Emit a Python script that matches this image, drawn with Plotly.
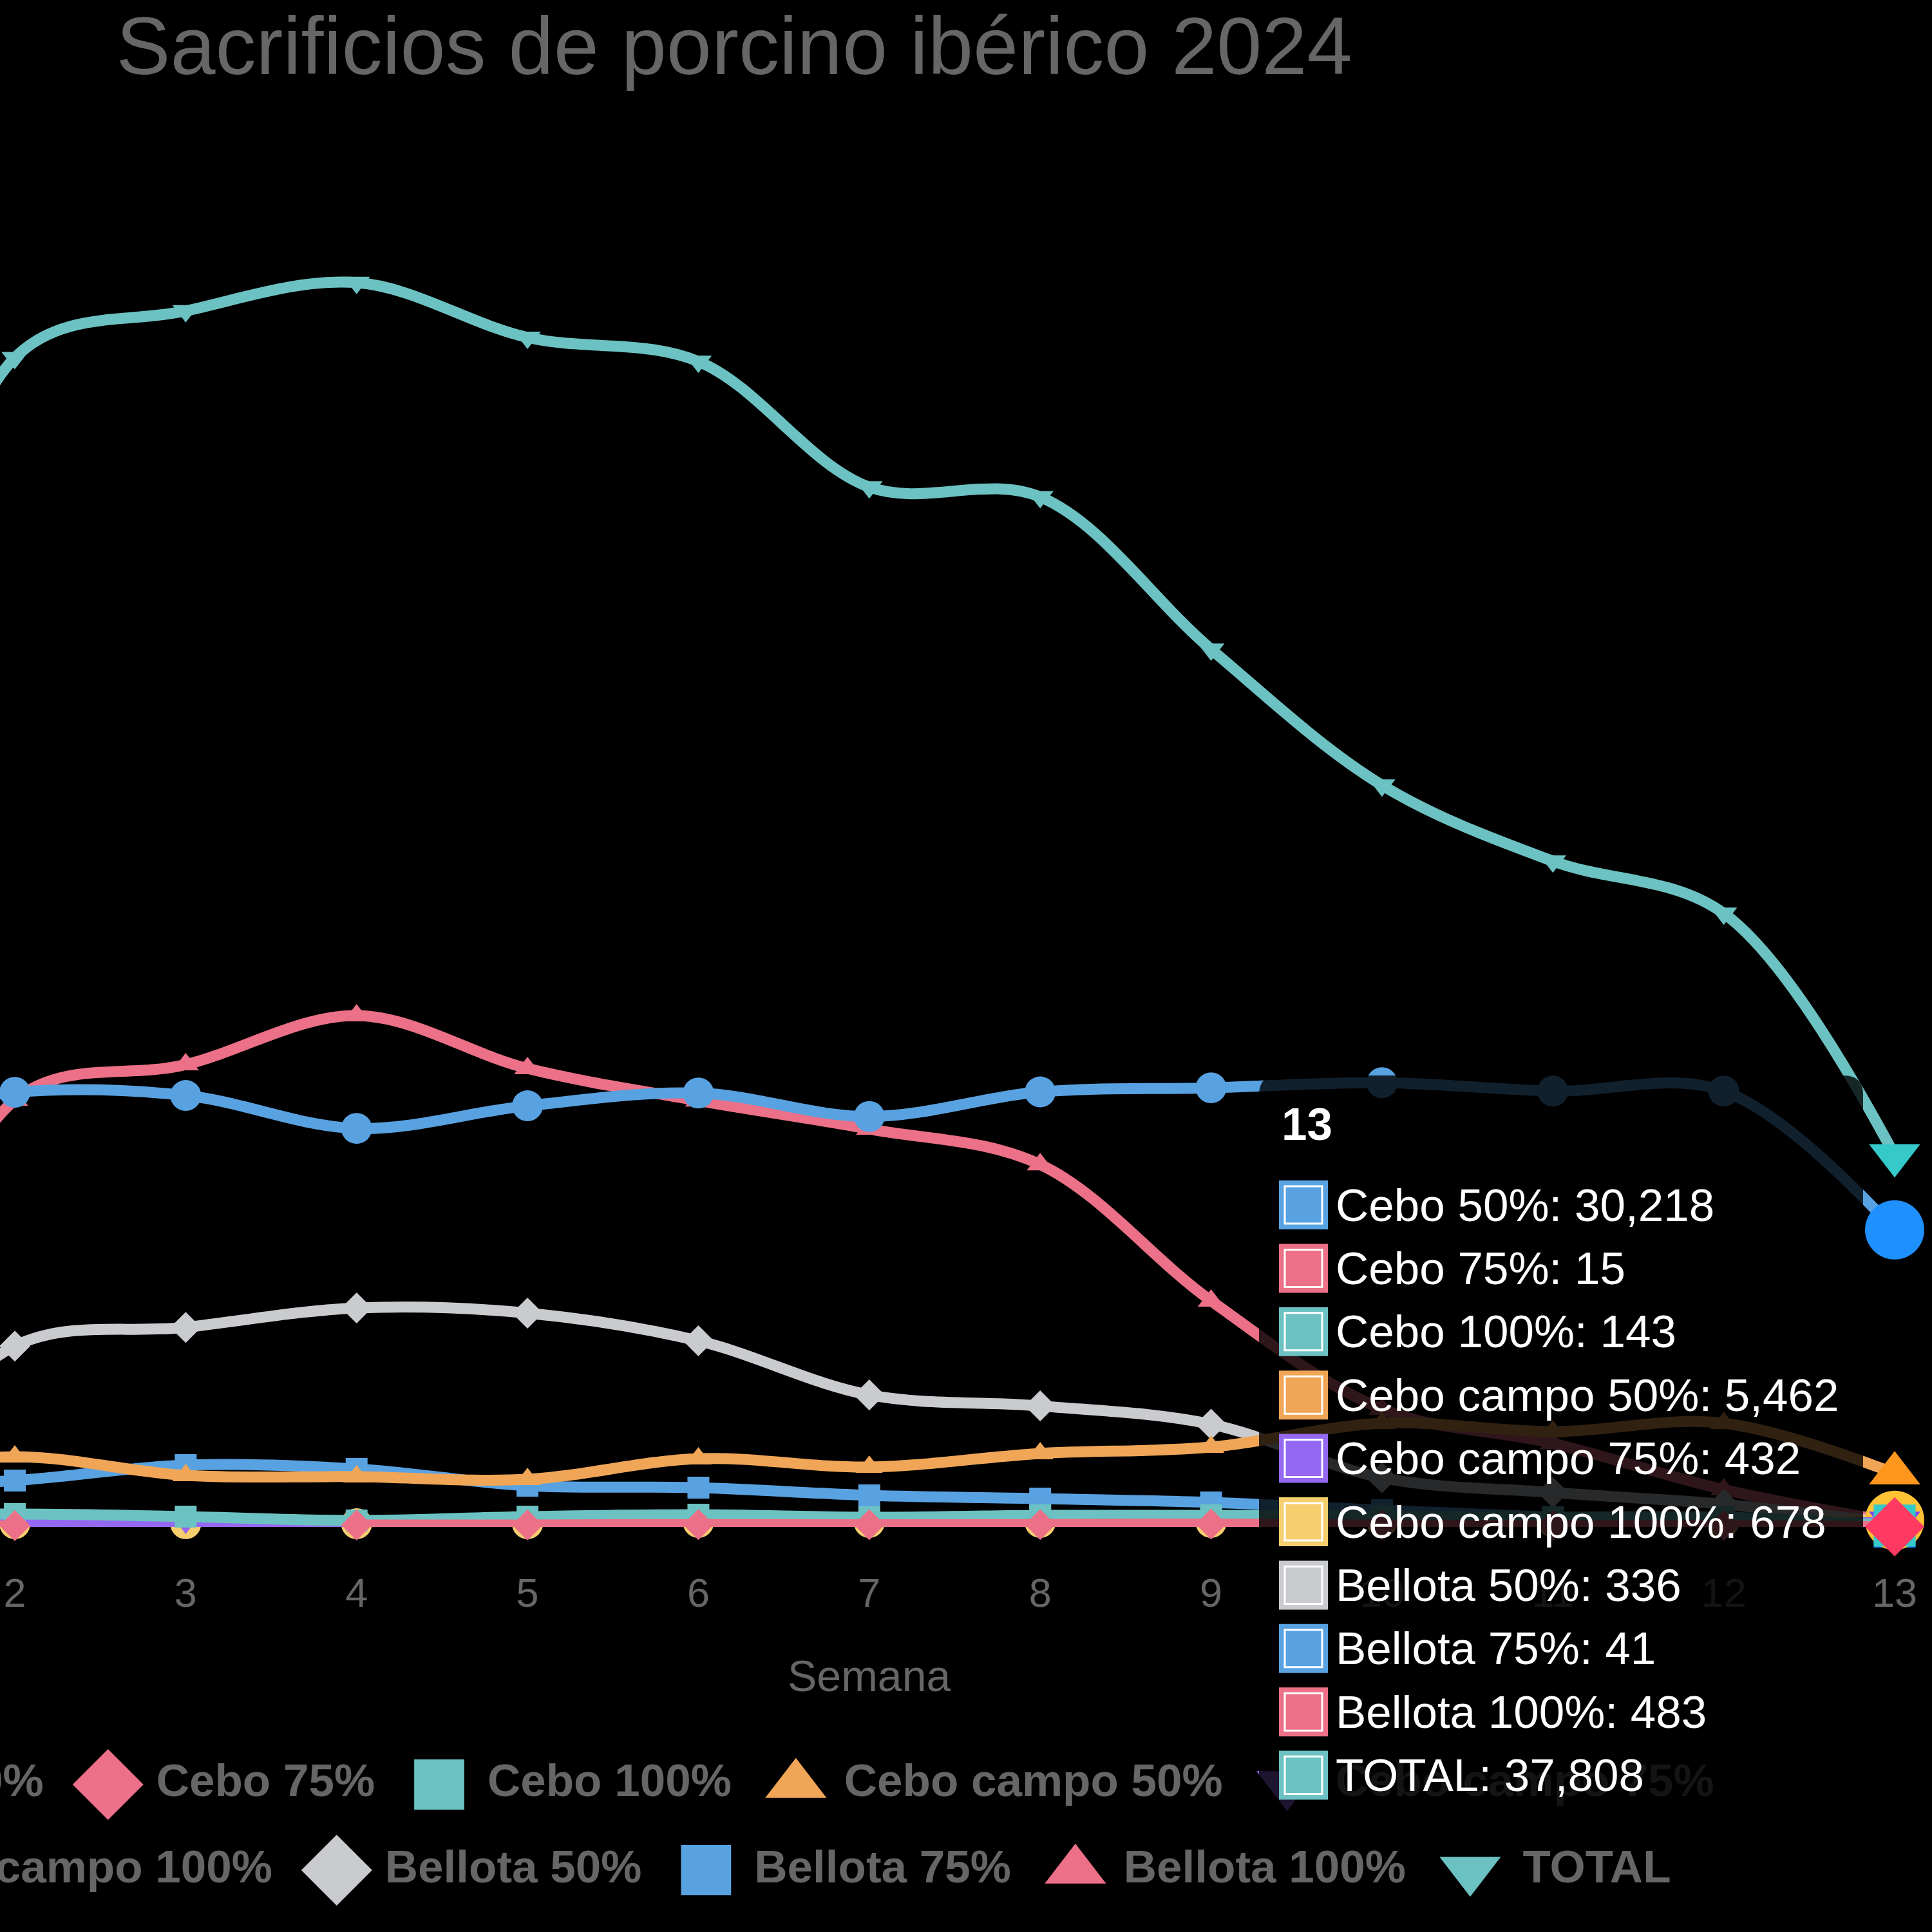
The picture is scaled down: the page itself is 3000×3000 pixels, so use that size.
import plotly.graph_objects as go

# ---------------- data ----------------
weeks = list(range(1, 14))
week_labels = [str(w) for w in weeks]

cebo_50 = [41000, 44210, 43890, 40540, 42840, 44140, 41750, 44250, 44670, 45190, 44340, 44340, 30218]
cebo_75 = [150, 130, None, 200, 200, 250, 230, 250, 300, 200, 150, 150, 15]
cebo_100 = [1000, 1310, 1050, 655, 1050, 1245, 980, 1180, 1180, 1100, 1000, 1000, 143]
cebo_campo_50 = [5200, 7140, 5240, 5110, 4850, 6940, 6090, 7470, 8120, 10550, 9700, 10550, 5462]
cebo_campo_75 = [300, 450, 460, 420, 430, 450, 440, 450, 450, 450, 450, 450, 432]
cebo_campo_100 = [350, 330, 330, 330, 330, 460, 460, 460, 460, 500, 500, 500, 678]
bellota_50 = [500, 18400, 20300, 22270, 21750, 18930, 13430, 12310, 10450, 5000, 3500, 2300, 336]
bellota_75 = [4000, 4720, 6290, 5900, 4190, 4000, 3210, 2880, 2490, 1700, 1000, 600, 41]
bellota_100 = [2000, 43430, 47030, 52010, 46640, 43360, 40480, 36870, 23000, 12000, 8500, 3800, 483]
total = [54300, 118935, 123700, 126580, 121000, 118560, 105780, 104780, 89280, 75460, 67730, 62420, 37808]

series_names = ["Cebo 50%", "Cebo 75%", "Cebo 100%", "Cebo campo 50%", "Cebo campo 75%",
                "Cebo campo 100%", "Bellota 50%", "Bellota 75%", "Bellota 100%", "TOTAL"]
series_values = [cebo_50, cebo_75, cebo_100, cebo_campo_50, cebo_campo_75,
                 cebo_campo_100, bellota_50, bellota_75, bellota_100, total]

chart_title = "Sacrificios de porcino ibérico 2024"
x_title = "Semana"

# ---------------- styles ----------------
W = H = 3000
palette = ["#58A2E2", "#EC7087", "#6CC2C2", "#F0A656", "#9568F2", "#F6CE6E", "#C9CBCF"]
hover_palette = ["#1E90FF", "#FF3A62", "#36C9C9", "#FF961E", "#8142FF", "#FFC234", "#C4C7CE"]
symbols = ["circle", "diamond", "square", "triangle-up", "triangle-down"]
FONT = "Liberation Sans, Arial, Helvetica, sans-serif"
GREY = "#666666"


def msize(sym, r):
    return {"circle": 2 * r, "diamond": r / 0.65, "square": 1.414 * r,
            "triangle-up": 1.5 * r, "triangle-down": 1.5 * r}[sym]


# pixel geometry of the main plot area
px_week2, px_week13 = 23, 2942
ppw = (px_week13 - px_week2) / 11.0
x_range = [2 - px_week2 / ppw, 13 + (W - px_week13) / ppw]
y_bottom_px, y_top_px = 2371, 234
y_max = 140000

fig = go.Figure()

# datasets: Chart.js draws the first dataset on top -> add in reverse order
for i in reversed(range(len(series_names))):
    name, vals = series_names[i], series_values[i]
    col = palette[i % 7]
    sym = symbols[i % 5]
    fig.add_trace(go.Scatter(
        x=weeks, y=vals, name=name, mode="lines+markers",
        line=dict(color=col, width=17, shape="spline", smoothing=1.0),
        marker=dict(symbol=sym, size=msize(sym, 24), color=col, line=dict(width=0)),
        connectgaps=False, cliponaxis=False, showlegend=False,
        xaxis="x", yaxis="y"))
    fig.add_trace(go.Scatter(
        x=[weeks[-1]], y=[vals[-1]], mode="markers",
        marker=dict(symbol=sym, size=msize(sym, 46), color=hover_palette[i % 7], line=dict(width=0)),
        cliponaxis=False, showlegend=False, hoverinfo="skip",
        xaxis="x", yaxis="y"))

# ---------------- manual legend (pixel overlay axes) ----------------
BOLD_W = {' ': .278, '%': .889, 'A': .722, 'B': .722, 'C': .722, 'L': .611, 'O': .778, 'T': .611,
          'a': .556, 'b': .611, 'c': .556, 'e': .556, 'l': .278, 'm': .889, 'o': .611, 'p': .611, 't': .333}
LEG_FS = 71


def bold_width(s):
    return sum(BOLD_W.get(ch, .556) for ch in s) * LEG_FS


legend_rows = [list(range(0, 5)), list(range(5, 10))]
row_marker_y = [2771, 2904]
row_text_y = [2771, 2905]
legend_center = 1130
R_LEG = 55
for row, my, ty in zip(legend_rows, row_marker_y, row_text_y):
    widths = [130 + bold_width(series_names[i]) for i in row]
    total_w = sum(widths) + 45 * (len(row) - 1)
    x = legend_center - total_w / 2
    for i, w in zip(row, widths):
        sym = symbols[i % 5]
        col = palette[i % 7]
        cx = x + R_LEG
        if cx > -R_LEG:
            fig.add_trace(go.Scatter(
                x=[cx], y=[my], mode="markers", xaxis="x2", yaxis="y2",
                marker=dict(symbol=sym, size=msize(sym, R_LEG), color=col, line=dict(width=0)),
                cliponaxis=False, showlegend=False, hoverinfo="skip"))
        # anchor text by its right end so partly cut-off labels still render
        fig.add_trace(go.Scatter(
            x=[x + w], y=[ty], mode="text", xaxis="x2", yaxis="y2",
            text=[series_names[i]], textposition="middle left",
            textfont=dict(family=FONT, size=LEG_FS, color=GREY, weight="bold"),
            cliponaxis=False, showlegend=False, hoverinfo="skip"))
        x += w + 45

# ---------------- tooltip ----------------
tl, tr, tt, tb, rr = 1955, 2893, 1670, 2830, 30
path = (f"M {tl+rr},{tt} L {tr-rr},{tt} Q {tr},{tt} {tr},{tt+rr} L {tr},{tb-rr} Q {tr},{tb} {tr-rr},{tb} "
        f"L {tl+rr},{tb} Q {tl},{tb} {tl},{tb-rr} L {tl},{tt+rr} Q {tl},{tt} {tl+rr},{tt} Z")
shapes = [dict(type="path", path=path, xref="x2", yref="y2", fillcolor="rgba(0,0,0,0.8)",
               line=dict(width=0), layer="above")]
annotations = [dict(text=f"<b>{week_labels[-1]}</b>", x=1988, y=1745, xref="x2", yref="y2",
                    xanchor="left", yanchor="middle", showarrow=False,
                    font=dict(family=FONT, size=71, color="white"))]
row0, pitch, box = 1871, 98.4, 76
for i, (name, vals) in enumerate(zip(series_names, series_values)):
    cy = row0 + i * pitch
    col = palette[i % 7]
    shapes.append(dict(type="rect", xref="x2", yref="y2", x0=1986, x1=1986 + box,
                       y0=cy - box / 2, y1=cy + box / 2, fillcolor=col, line=dict(width=0), layer="above"))
    shapes.append(dict(type="rect", xref="x2", yref="y2", x0=1986 + 9, x1=1986 + box - 9,
                       y0=cy - box / 2 + 9, y1=cy + box / 2 - 9, fillcolor="rgba(0,0,0,0)",
                       line=dict(width=3, color="white"), layer="above"))
    annotations.append(dict(text=f"{name}: {vals[-1]:,}", x=2072, y=cy, xref="x2", yref="y2",
                            xanchor="left", yanchor="middle", showarrow=False,
                            font=dict(family=FONT, size=71, color="white")))

# axis title centred on the chart area (weeks 1..13)
annotations.append(dict(text=x_title, x=(weeks[0] + weeks[-1]) / 2, y=2602, xref="x", yref="y2",
                        xanchor="center", yanchor="middle", showarrow=False,
                        font=dict(family=FONT, size=68, color=GREY)))

fig.update_layout(
    width=W, height=H, autosize=False,
    margin=dict(l=0, r=0, t=0, b=0, pad=0, autoexpand=False),
    paper_bgcolor="black", plot_bgcolor="rgba(0,0,0,0)",
    showlegend=False,
    title=dict(text=chart_title, x=1140 / W, xref="paper", xanchor="center",
               y=1 - 71 / H, yref="container", yanchor="middle",
               font=dict(family=FONT, size=126, color=GREY)),
    xaxis=dict(domain=[0, 1], range=x_range, tickmode="array", tickvals=weeks, ticktext=week_labels,
               showgrid=False, zeroline=False, showline=False, ticks="",
               ticklabelstandoff=60, tickfont=dict(family=FONT, size=63, color=GREY), anchor="y"),
    yaxis=dict(domain=[(H - y_bottom_px) / H, (H - y_top_px) / H], range=[0, y_max], visible=False,
               anchor="x"),
    xaxis2=dict(domain=[0, 1], range=[0, W], visible=False, anchor="y2"),
    yaxis2=dict(domain=[0, 1], range=[H, 0], visible=False, anchor="x2"),
    shapes=shapes, annotations=annotations,
)

fig.write_html("out.html")
